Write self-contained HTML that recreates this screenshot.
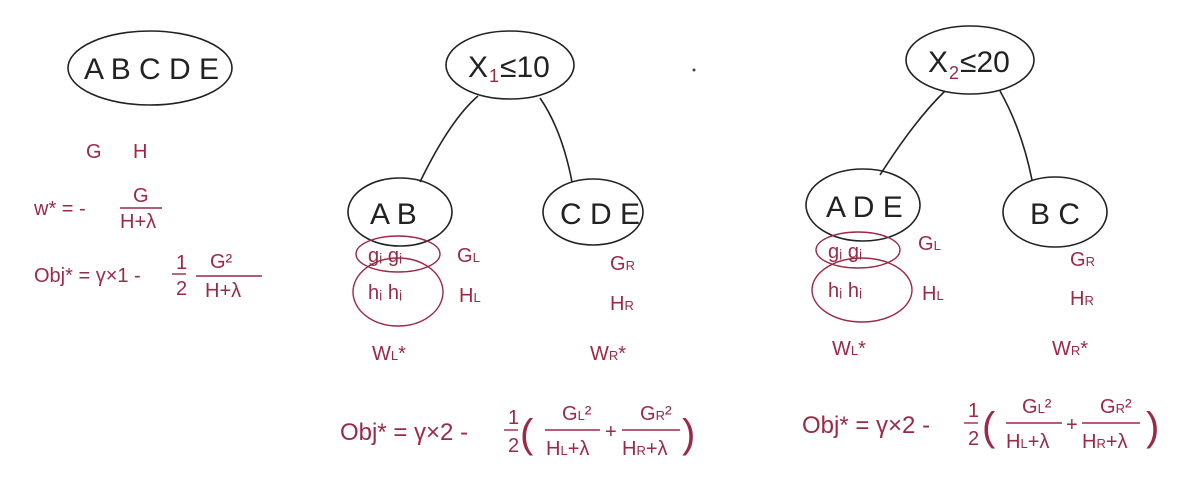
<!DOCTYPE html>
<html><head><meta charset="utf-8"><style>
html,body{margin:0;padding:0;background:#fff;width:1182px;height:482px;overflow:hidden}
svg{display:block}
.k{fill:none;stroke:#222;stroke-width:1.6}
.r{fill:none;stroke:#9a2a45;stroke-width:1.4}
.tk{font-family:"Liberation Sans",sans-serif;fill:#222;font-size:30px}
.tr{font-family:"Liberation Sans",sans-serif;fill:#9a2a45;font-size:20px}
.sm{font-size:13px}
</style></head><body>
<svg width="1182" height="482" viewBox="0 0 1182 482">
<g>
<ellipse class="k" cx="150" cy="68" rx="82" ry="37"/>
<text class="tk" x="84" y="79">A B C D E</text></g>
<g><text class="tr" x="86" y="158">G</text><text class="tr" x="133" y="158">H</text></g>
<g>
<text class="tr" x="34" y="215">w* = -</text>
<text class="tr" x="133" y="202">G</text><line class="r" x1="120" y1="208" x2="162" y2="208"/>
<text class="tr" x="120" y="228">H+λ</text></g>
<g>
<text class="tr" x="34" y="282">Obj* = γ×1 -</text>
<text class="tr" x="176" y="269">1</text><line class="r" x1="172" y1="274" x2="186" y2="274"/><text class="tr" x="176" y="295">2</text>
<text class="tr" x="210" y="268">G²</text><line class="r" x1="196" y1="276" x2="262" y2="276"/><text class="tr" x="205" y="297">H+λ</text></g>

<g>
<ellipse class="k" cx="510" cy="65" rx="64" ry="34"/>
<text class="tk" x="468" y="77">X</text><text class="tr" x="489" y="82" style="font-size:18px">1</text><text class="tk" x="500" y="77">≤10</text>
<path class="k" d="M478 96 Q450 120 420 182"/><path class="k" d="M540 98 Q562 130 572 182"/>
<ellipse class="k" cx="400" cy="212" rx="52" ry="34"/><text class="tk" x="370" y="224">A B</text>
<ellipse class="k" cx="593" cy="212" rx="50" ry="33"/><text class="tk" x="560" y="224">C D E</text>
<ellipse class="r" cx="398" cy="254" rx="42" ry="18"/><ellipse class="r" cx="398" cy="292" rx="45" ry="34"/>
<text class="tr" x="368" y="262">gᵢ  gᵢ</text><text class="tr" x="368" y="299">hᵢ  hᵢ</text>
<text class="tr" x="457" y="262">G<tspan class="sm">L</tspan></text><text class="tr" x="459" y="302">H<tspan class="sm">L</tspan></text>
<text class="tr" x="610" y="270">G<tspan class="sm">R</tspan></text><text class="tr" x="610" y="310">H<tspan class="sm">R</tspan></text>
<text class="tr" x="372" y="360">W<tspan class="sm">L</tspan>*</text><text class="tr" x="590" y="360">W<tspan class="sm">R</tspan>*</text>
<text class="tr" x="340" y="440" style="font-size:24px">Obj*  =  γ×2 -</text>
<text class="tr" x="508" y="424">1</text><line class="r" x1="504" y1="430" x2="518" y2="430"/><text class="tr" x="508" y="452">2</text>
<text class="tr" x="520" y="447" style="font-size:40px">(</text>
<text class="tr" x="562" y="420">G<tspan class="sm">L</tspan>²</text><line class="r" x1="545" y1="430" x2="600" y2="430"/><text class="tr" x="546" y="455">H<tspan class="sm">L</tspan>+λ</text>
<text class="tr" x="605" y="438">+</text>
<text class="tr" x="640" y="420">G<tspan class="sm">R</tspan>²</text><line class="r" x1="622" y1="430" x2="680" y2="430"/><text class="tr" x="622" y="455">H<tspan class="sm">R</tspan>+λ</text>
<text class="tr" x="682" y="447" style="font-size:40px">)</text></g>

<g>
<ellipse class="k" cx="970" cy="60" rx="64" ry="34"/>
<text class="tk" x="928" y="72">X</text><text class="tr" x="949" y="79" style="font-size:18px">2</text><text class="tk" x="960" y="72">≤20</text>
<path class="k" d="M945 91 Q915 120 880 175"/><path class="k" d="M1000 91 Q1022 130 1032 180"/>
<ellipse class="k" cx="863" cy="205" rx="57" ry="36"/><text class="tk" x="826" y="217">A D E</text>
<ellipse class="k" cx="1055" cy="212" rx="52" ry="35"/><text class="tk" x="1030" y="224">B C</text>
<ellipse class="r" cx="858" cy="250" rx="42" ry="18"/><ellipse class="r" cx="862" cy="290" rx="50" ry="32"/>
<text class="tr" x="828" y="258">gᵢ  gᵢ</text><text class="tr" x="828" y="297">hᵢ  hᵢ</text>
<text class="tr" x="918" y="250">G<tspan class="sm">L</tspan></text><text class="tr" x="922" y="300">H<tspan class="sm">L</tspan></text>
<text class="tr" x="1070" y="266">G<tspan class="sm">R</tspan></text><text class="tr" x="1070" y="305">H<tspan class="sm">R</tspan></text>
<text class="tr" x="832" y="355">W<tspan class="sm">L</tspan>*</text><text class="tr" x="1052" y="355">W<tspan class="sm">R</tspan>*</text>
<text class="tr" x="802" y="433" style="font-size:24px">Obj*  =  γ×2 -</text>
<text class="tr" x="968" y="417">1</text><line class="r" x1="964" y1="423" x2="978" y2="423"/><text class="tr" x="968" y="445">2</text>
<text class="tr" x="982" y="440" style="font-size:40px">(</text>
<text class="tr" x="1022" y="413">G<tspan class="sm">L</tspan>²</text><line class="r" x1="1006" y1="423" x2="1062" y2="423"/><text class="tr" x="1006" y="448">H<tspan class="sm">L</tspan>+λ</text>
<text class="tr" x="1066" y="431">+</text>
<text class="tr" x="1100" y="413">G<tspan class="sm">R</tspan>²</text><line class="r" x1="1082" y1="423" x2="1140" y2="423"/><text class="tr" x="1082" y="448">H<tspan class="sm">R</tspan>+λ</text>
<text class="tr" x="1146" y="440" style="font-size:40px">)</text></g>
<circle cx="694" cy="70" r="1.5" fill="#444"/>
</svg>
</body></html>
